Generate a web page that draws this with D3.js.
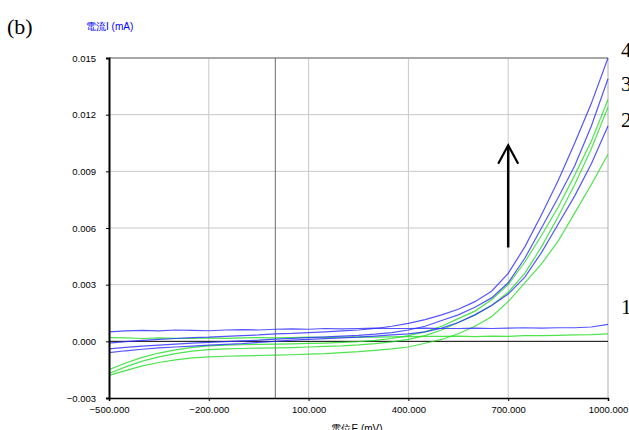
<!DOCTYPE html>
<html>
<head>
<meta charset="utf-8">
<script src="https://cdn.jsdelivr.net/npm/d3@7"></script>
<style>
  body { margin: 0; background: #fff; }
  text { font-family: "Liberation Sans", Arial, sans-serif; }
</style>
</head>
<body>
<div id="chart"></div>
<script>
// potential (mV)
var potential = [-500,-450,-400,-350,-300,-250,-200,-150,-100,-50,0,50,100,150,200,250,300,350,400,450,500,550,600,650,700,750,800,850,900,950,1000];

// current (mA), blue curves
var blue1 = [0.00050,0.00055,0.00058,0.00055,0.00060,0.00058,0.00056,0.00060,0.00062,0.00060,0.00064,0.00066,0.00064,0.00068,0.00066,0.00068,0.00070,0.00068,0.00068,0.00070,0.00068,0.00068,0.00070,0.00068,0.00070,0.00072,0.00070,0.00072,0.00072,0.00076,0.00090];
var blue2 = [-0.00010,-0.00002,0.00005,0.00010,0.00015,0.00020,0.00022,0.00026,0.00030,0.00034,0.00040,0.00042,0.00046,0.00050,0.00055,0.00060,0.00068,0.00080,0.00095,0.00115,0.00140,0.00170,0.00210,0.00265,0.00360,0.00500,0.00670,0.00850,0.01050,0.01260,0.01500];
var blue3 = [-0.00040,-0.00032,-0.00025,-0.00020,-0.00015,-0.00010,-0.00006,-0.00002,0.00002,0.00006,0.00012,0.00016,0.00020,0.00024,0.00028,0.00032,0.00038,0.00046,0.00060,0.00080,0.00110,0.00140,0.00180,0.00230,0.00310,0.00440,0.00600,0.00760,0.00930,0.01140,0.01390];
var blue4 = [-0.00060,-0.00050,-0.00042,-0.00035,-0.00030,-0.00025,-0.00020,-0.00016,-0.00012,-0.00006,0.00000,0.00006,0.00010,0.00014,0.00018,0.00022,0.00028,0.00034,0.00040,0.00050,0.00070,0.00100,0.00140,0.00190,0.00250,0.00340,0.00470,0.00620,0.00770,0.00940,0.01140];

// current (mA), green curves
var green1 = [0.00020,0.00018,0.00015,0.00018,0.00016,0.00015,0.00018,0.00016,0.00018,0.00020,0.00018,0.00020,0.00022,0.00020,0.00022,0.00024,0.00022,0.00024,0.00025,0.00026,0.00026,0.00028,0.00025,0.00028,0.00026,0.00030,0.00030,0.00032,0.00034,0.00036,0.00040];
var green2 = [-0.00150,-0.00115,-0.00085,-0.00062,-0.00045,-0.00032,-0.00024,-0.00020,-0.00018,-0.00016,-0.00015,-0.00013,-0.00011,-0.00009,-0.00006,-0.00002,0.00005,0.00015,0.00030,0.00050,0.00080,0.00120,0.00160,0.00220,0.00300,0.00420,0.00560,0.00710,0.00880,0.01060,0.01280];
var green3 = [-0.00170,-0.00135,-0.00105,-0.00082,-0.00065,-0.00052,-0.00044,-0.00040,-0.00038,-0.00036,-0.00035,-0.00033,-0.00030,-0.00027,-0.00024,-0.00019,-0.00012,-0.00003,0.00010,0.00030,0.00060,0.00100,0.00140,0.00190,0.00260,0.00360,0.00500,0.00660,0.00830,0.01020,0.01240];
var green4 = [-0.00180,-0.00155,-0.00130,-0.00112,-0.00098,-0.00088,-0.00082,-0.00079,-0.00077,-0.00075,-0.00073,-0.00071,-0.00068,-0.00065,-0.00060,-0.00055,-0.00048,-0.00040,-0.00030,-0.00010,0.00010,0.00040,0.00080,0.00130,0.00210,0.00310,0.00410,0.00530,0.00680,0.00830,0.00990];

var xTicks = [-500, -200, 100, 400, 700, 1000];
var yTicks = [-0.003, 0, 0.003, 0.006, 0.009, 0.012, 0.015];

// curve number labels on the right and where they sit
var curveLabels = ["4", "3", "2", "1"];
var curveLabelY = [0.01545, 0.0136, 0.0117, 0.0018];

var width = 629, height = 430;

var svg = d3.select("#chart")
  .append("svg")
    .attr("width", width)
    .attr("height", height)
    .style("display", "block");

var x = d3.scaleLinear().domain([-500, 1000]).range([109, 608]);
var y = d3.scaleLinear().domain([-0.003, 0.015]).range([398, 58]);

// grid
svg.append("g").selectAll("line")
  .data(xTicks.slice(1, -1))
  .join("line")
    .attr("x1", function(d) { return x(d); })
    .attr("x2", function(d) { return x(d); })
    .attr("y1", y(0.015)).attr("y2", y(-0.003))
    .attr("stroke", "#c8c8c8");
svg.append("g").selectAll("line")
  .data(yTicks.slice(1, -1).filter(function(d) { return d !== 0; }))
  .join("line")
    .attr("x1", x(-500)).attr("x2", x(1000))
    .attr("y1", function(d) { return y(d); })
    .attr("y2", function(d) { return y(d); })
    .attr("stroke", "#c8c8c8");

// frame top / right
svg.append("line")
  .attr("x1", x(-500)).attr("x2", x(1000))
  .attr("y1", y(0.015)).attr("y2", y(0.015))
  .attr("stroke", "#a8a8a8").attr("stroke-width", 2);
svg.append("line")
  .attr("x1", x(1000)).attr("x2", x(1000))
  .attr("y1", y(0.015)).attr("y2", y(-0.003))
  .attr("stroke", "#b0b0b0");

// zero lines
svg.append("line")
  .attr("x1", x(0)).attr("x2", x(0))
  .attr("y1", y(0.015)).attr("y2", y(-0.003))
  .attr("stroke", "#6e6e6e");
svg.append("line")
  .attr("x1", x(-500)).attr("x2", x(1000))
  .attr("y1", y(0)).attr("y2", y(0))
  .attr("stroke", "#000");

// curves
var line = d3.line()
  .x(function(d, i) { return x(potential[i]); })
  .y(function(d) { return y(d); });

var series = [
  {v: green1, c: "#22dd22"}, {v: green2, c: "#22dd22"}, {v: green3, c: "#22dd22"}, {v: green4, c: "#22dd22"},
  {v: blue1, c: "#2a2aff"}, {v: blue2, c: "#2a2aff"}, {v: blue3, c: "#2a2aff"}, {v: blue4, c: "#2a2aff"}
];
svg.append("g").selectAll("path")
  .data(series)
  .join("path")
    .attr("fill", "none")
    .attr("stroke", function(d) { return d.c; })
    .attr("stroke-opacity", 0.8)
    .attr("stroke-width", 1.2)
    .attr("d", function(d) { return line(d.v); });

// axes
var fmt = d3.format(".3f");
svg.append("g")
  .attr("transform", "translate(" + x(-500) + ",0)")
  .call(d3.axisLeft(y).tickValues(yTicks).tickFormat(fmt).tickSize(3).tickPadding(10))
  .call(function(g) {
    g.select(".domain").attr("stroke-width", 2);
    g.selectAll("text").style("font-size", "9.5px").attr("fill", "#000");
  });
svg.append("g")
  .attr("transform", "translate(0," + y(-0.003) + ")")
  .call(d3.axisBottom(x).tickValues(xTicks).tickFormat(fmt).tickSize(3).tickPadding(5))
  .call(function(g) {
    g.select(".domain").attr("stroke-width", 1.5);
    g.selectAll("text").style("font-size", "9.5px").attr("fill", "#000");
  });

// axis titles
svg.append("text")
  .attr("x", 86).attr("y", 30)
  .attr("fill", "#0000ff")
  .style("font-size", "10px")
  .text("電流I (mA)");
svg.append("text")
  .attr("x", 357).attr("y", 432)
  .attr("text-anchor", "middle")
  .style("font-size", "10px")
  .text("電位E (mV)");

// panel label
svg.append("text")
  .attr("x", 7).attr("y", 34)
  .style("font-family", "'Liberation Serif', 'Times New Roman', serif")
  .style("font-size", "22px")
  .text("(b)");

// arrow
var ax = x(700);
svg.append("line")
  .attr("x1", ax).attr("x2", ax)
  .attr("y1", y(0.00497)).attr("y2", y(0.01035))
  .attr("stroke", "#000").attr("stroke-width", 2.5);
svg.append("path")
  .attr("d", "M" + (ax - 10) + "," + y(0.0094) + "L" + ax + "," + y(0.01038) + "L" + (ax + 10) + "," + y(0.0094))
  .attr("fill", "none")
  .attr("stroke", "#000").attr("stroke-width", 2.2);

// curve numbers
svg.append("g").selectAll("text")
  .data(curveLabels)
  .join("text")
    .attr("x", 621)
    .attr("y", function(d, i) { return y(curveLabelY[i]) + 7; })
    .style("font-family", "'Liberation Serif', 'Times New Roman', serif")
    .style("font-size", "21px")
    .text(function(d) { return d; });
</script>
</body>
</html>
